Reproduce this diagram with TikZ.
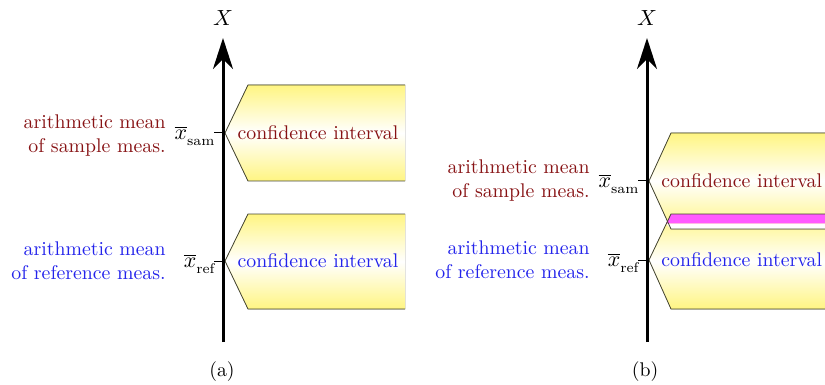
\documentclass[tikz,border=0pt]{standalone}
\usetikzlibrary{arrows.meta}
\definecolor{darkred}{RGB}{135,18,20}
\definecolor{refblue}{RGB}{35,35,235}
\definecolor{ciyellow}{RGB}{255,245,130}
\definecolor{ciborder}{RGB}{70,70,50}
\definecolor{overlap}{RGB}{255,90,255}
\tikzset{
  cifill/.style={top color=ciyellow, bottom color=ciyellow, middle color=white, draw=none},
  ciline/.style={draw=ciborder, line width=0.4pt},
  axisline/.style={line width=1.5pt, -{Stealth[length=15.5pt, width=10pt, inset=5pt]}},
  tickline/.style={line width=0.5pt},
  lbl/.style={font=\fontsize{9.9}{12}\selectfont, align=right, anchor=east, inner sep=0pt},
  citext/.style={font=\fontsize{9.9}{12}\selectfont, inner sep=0pt},
  meanlbl/.style={font=\fontsize{10.5}{12}\selectfont, anchor=east, inner sep=0pt},
  axlbl/.style={font=\fontsize{10.8}{12}\selectfont, inner sep=0pt},
  caption/.style={font=\fontsize{9.9}{12}\selectfont, inner sep=0pt}
}
\newcommand{\xbar}[1]{$\overline{x}_{\raisebox{-1.5pt}{\fontsize{7}{8}\selectfont #1}}$}
\begin{document}
\begin{tikzpicture}[x=0.5pt,y=-0.5pt]
\useasboundingbox (0,0) rectangle (825,385);
% ---------------- panel (a) ----------------
\fill[cifill] (225,133) -- (248,85) -- (405,85) -- (405,181) -- (248,181) -- cycle;
\draw[ciline] (405,85) -- (248,85) -- (225,133) -- (248,181) -- (405,181);
\fill[cifill] (225,261) -- (248,214) -- (405,214) -- (405,309) -- (248,309) -- cycle;
\draw[ciline] (405,214) -- (248,214) -- (225,261) -- (248,309) -- (405,309);
\node[citext, text=darkred] (aci1) at (318,133) {confidence interval};
\node[citext, text=refblue] (aci2) at (318,261) {confidence interval};
\coordinate (abot) at (223,342);
\coordinate (atop) at (223,38);
\draw[axisline] (abot) -- (atop);
\node[axlbl] (aX) at (223,18) {$X$};
\coordinate (atick1) at (214,133);
\coordinate (atick2) at (214,261);
\draw[tickline] (atick1) -- (223,133);
\draw[tickline] (atick2) -- (223,261);
\node[meanlbl] (asam) at (216,136) {\xbar{sam}};
\node[meanlbl] (aref) at (216,264) {\xbar{ref}};
\node[lbl, text=darkred] (alab1) at (166,136) {arithmetic mean\\of sample meas.};
\node[lbl, text=refblue] (alab2) at (166,261) {arithmetic mean\\of reference meas.};
\node[caption] (capa) at (222,372) {(a)};
% ---------------- panel (b) ----------------
\fill[cifill] (649,260) -- (671,214) -- (825,214) -- (825,309) -- (671,309) -- cycle;
\fill[cifill] (649,181) -- (671,133) -- (825,133) -- (825,229) -- (671,229) -- cycle;
\fill[overlap] (666,223.5) -- (671,214) -- (825,214) -- (825,223.5) -- cycle;
\fill[white] (666,223.5) -- (825,223.5) -- (825,229) -- (671,229) -- cycle;
\draw[ciline] (825,214) -- (671,214) -- (649,260) -- (671,309) -- (825,309);
\draw[ciline] (825,133) -- (671,133) -- (649,181) -- (671,229) -- (825,229);
\node[citext, text=darkred, anchor=west] (bci1) at (661,181) {confidence interval};
\node[citext, text=refblue, anchor=west] (bci2) at (661,260) {confidence interval};
\coordinate (bbot) at (647,342);
\coordinate (btop) at (647,38);
\draw[axisline] (bbot) -- (btop);
\node[axlbl] (bX) at (647,18) {$X$};
\coordinate (btick1) at (638,181);
\coordinate (btick2) at (638,260);
\draw[tickline] (btick1) -- (647,181);
\draw[tickline] (btick2) -- (647,260);
\node[meanlbl] (bsam) at (640,184) {\xbar{sam}};
\node[meanlbl] (bref) at (640,263) {\xbar{ref}};
\node[lbl, text=darkred] (blab1) at (590,181) {arithmetic mean\\of sample meas.};
\node[lbl, text=refblue] (blab2) at (590,260) {arithmetic mean\\of reference meas.};
\node[caption] (capb) at (645,372) {(b)};
\end{tikzpicture}
\end{document}
